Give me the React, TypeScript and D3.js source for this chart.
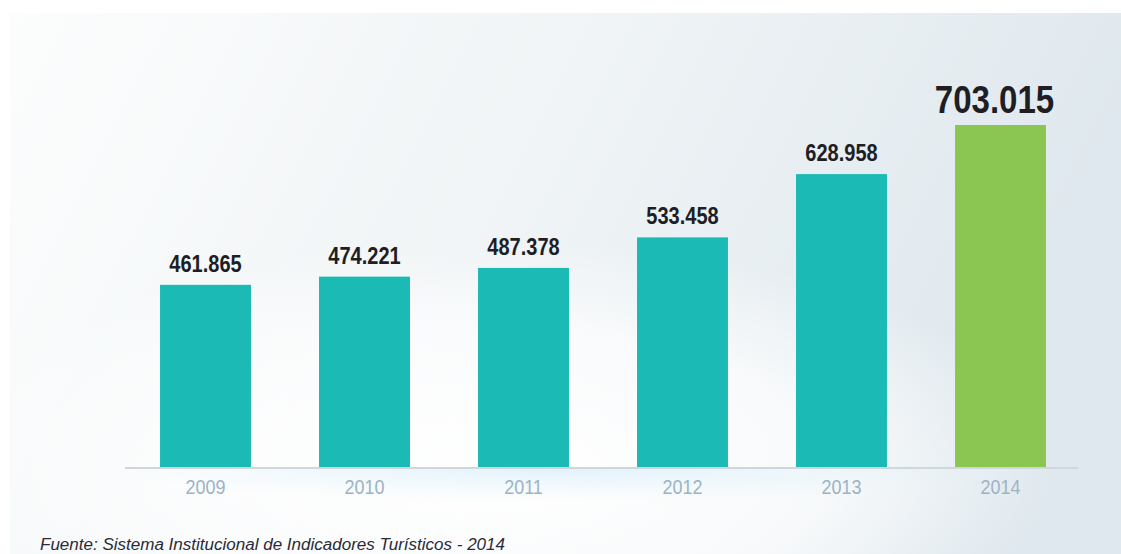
import React from 'react';
import * as d3 from 'd3';

const years = ['2009', '2010', '2011', '2012', '2013', '2014'];
const visitors = [461865, 474221, 487378, 533458, 628958, 703015];
const valueLabels = ['461.865', '474.221', '487.378', '533.458', '628.958', '703.015'];
const source = 'Fuente: Sistema Institucional de Indicadores Turísticos - 2014';

const W = 1121;
const H = 554;

export default function App() {
  const x = d3.scaleBand<string>()
    .domain(years)
    .range([126, 1080])
    .paddingInner(0.428)
    .paddingOuter(0.214);

  const baseY = 467;
  const y = d3.scaleLinear()
    .domain([187000, 703015])
    .range([baseY, 125]);

  const last = years.length - 1;

  return (
    <svg width={W} height={H} style={{ position: 'absolute', left: 0, top: 0 }}
      fontFamily="'Liberation Sans', Arial, sans-serif">
      <defs>
        <linearGradient id="bg" x1="0" y1="0" x2="1" y2="0.25">
          <stop offset="0" stopColor="#fcfdfd" />
          <stop offset="0.5" stopColor="#f0f4f6" />
          <stop offset="1" stopColor="#dfe8ee" />
        </linearGradient>
        <radialGradient id="glow" cx="0.5" cy="0.5" r="0.5">
          <stop offset="0" stopColor="#ffffff" stopOpacity="1" />
          <stop offset="0.6" stopColor="#ffffff" stopOpacity="0.7" />
          <stop offset="1" stopColor="#ffffff" stopOpacity="0" />
        </radialGradient>
        <radialGradient id="blueGlow" cx="0.5" cy="0.5" r="0.5">
          <stop offset="0" stopColor="#dcf0fa" stopOpacity="0.9" />
          <stop offset="1" stopColor="#e6f4fb" stopOpacity="0" />
        </radialGradient>
        <clipPath id="belowBase">
          <rect x={0} y={baseY + 1} width={W} height={H} />
        </clipPath>
      </defs>
      <rect width={W} height={H} fill="#ffffff" />
      <rect x={10} y={13} width={W - 10} height={H - 13} fill="url(#bg)" />
      <ellipse cx={500} cy={470} rx={560} ry={230} fill="url(#glow)" />
      <ellipse cx={560} cy={baseY} rx={470} ry={34} fill="url(#blueGlow)" clipPath="url(#belowBase)" />

      {years.map((yr, i) => (
        <rect key={yr}
          x={x(yr)}
          y={y(visitors[i])}
          width={x.bandwidth()}
          height={baseY - y(visitors[i])}
          fill={i === last ? '#8bc652' : '#1cbab5'} />
      ))}

      <line x1={125} x2={1078} y1={baseY + 1} y2={baseY + 1} stroke="#cfd7db" strokeWidth={2} />

      {years.map((yr, i) => {
        const big = i === last;
        const cx = (x(yr) ?? 0) + x.bandwidth() / 2 - (big ? 6 : 0);
        return (
          <text key={'v' + yr}
            transform={`translate(${cx},${y(visitors[i]) - (big ? 12 : 13)}) scale(0.87,1)`}
            textAnchor="middle"
            fontWeight="bold"
            fontSize={big ? 38 : 23}
            fill="#1e1e24">
            {valueLabels[i]}
          </text>
        );
      })}

      {years.map((yr) => {
        const cx = (x(yr) ?? 0) + x.bandwidth() / 2;
        return (
          <text key={'t' + yr}
            transform={`translate(${cx},${baseY + 27}) scale(0.9,1)`}
            textAnchor="middle"
            fontSize={20}
            fill="#9db3c5">
            {yr}
          </text>
        );
      })}

      <text x={40} y={550} fontSize={16} fontStyle="italic" fill="#2a2a36"
        textLength={465} lengthAdjust="spacingAndGlyphs">
        {source}
      </text>
    </svg>
  );
}
